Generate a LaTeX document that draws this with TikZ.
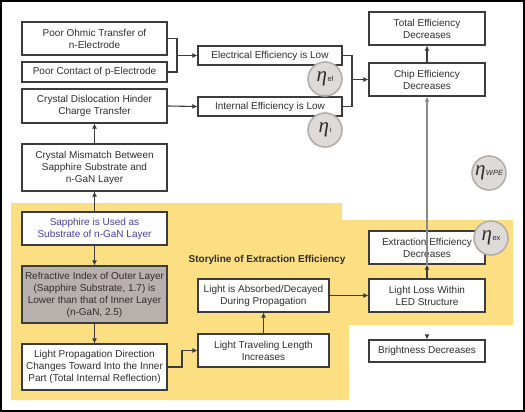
\documentclass[tikz,border=0pt]{standalone}
\usepackage{fontspec}
\setmainfont{Liberation Sans}
\newfontfamily\etafont{Liberation Serif}
\usetikzlibrary{arrows.meta}
\definecolor{boxc}{HTML}{3C3C3C}
\definecolor{txtc}{HTML}{2E2E2E}
\definecolor{ylw}{HTML}{FCDF82}
\definecolor{refrc}{HTML}{B8B0AD}
\definecolor{bluet}{HTML}{4A40A0}
\definecolor{etaf}{HTML}{DEDAD8}
\definecolor{etab}{HTML}{B4AEAB}
\definecolor{grayline}{HTML}{8A8A8A}
\tikzset{
  box/.style={draw=boxc, line width=1.1pt, fill=white, text=txtc, align=center,
    font=\fontsize{10}{12}\selectfont, inner sep=0pt},
  conn/.style={draw=boxc, line width=1.1pt, -{Latex[length=5pt,width=5pt]}},
  plain/.style={draw=boxc, line width=1.1pt},
  eta/.style={circle, draw=etab, fill=etaf, line width=1.6pt, minimum size=34pt, inner sep=0pt, text=txtc}
}
\newcommand{\etalbl}[1]{{\etafont\itshape\fontsize{21}{21}\selectfont η}\hspace{0.5pt}\raisebox{0.5pt}{\fontsize{7.5}{8}\selectfont #1}}
\begin{document}
\begin{tikzpicture}[x=1pt,y=-1pt]
\useasboundingbox (0,0) rectangle (525,412);
% yellow background
\fill[ylw] (11,203) -- (342,203) -- (342,220) -- (513,220) -- (513,325) -- (349,325) -- (349,400) -- (11,400) -- cycle;
% left column
\node[box, minimum width=145pt, minimum height=33pt] (ohmic) at (94.5,38.5) {Poor Ohmic Transfer of\\n-Electrode};
\node[box, minimum width=145pt, minimum height=20pt] (contact) at (94.5,72) {Poor Contact of p-Electrode};
\node[box, minimum width=145pt, minimum height=34pt] (disloc) at (94.5,106) {Crystal Dislocation Hinder\\Charge Transfer};
\node[box, minimum width=145pt, minimum height=47pt] (mismatch) at (94.5,167.5) {Crystal Mismatch Between\\Sapphire Substrate and\\n-GaN Layer};
\node[box, minimum width=145pt, minimum height=33pt, text=bluet] (sapphire) at (94.5,228.5) {Sapphire is Used as\\Substrate of n-GaN Layer};
\node[box, fill=refrc, minimum width=145pt, minimum height=57pt] (refr) at (94.5,294.5) {Refractive Index of Outer Layer\\(Sapphire Substrate, 1.7) is\\Lower than that of Inner Layer\\(n-GaN, 2.5)};
\node[box, minimum width=145pt, minimum height=46pt] (prop) at (94.5,367) {Light Propagation Direction\\Changes Toward Into the Inner\\Part (Total Internal Reflection)};
% middle column
\node[box, minimum width=144pt, minimum height=19pt] (elec) at (270,55.5) {Electrical Efficiency is Low};
\node[box, minimum width=144pt, minimum height=19pt] (internal) at (270,106.5) {Internal Efficiency is Low};
\node[box, minimum width=131pt, minimum height=33pt] (absorbed) at (263.5,295.5) {Light is Absorbed/Decayed\\During Propagation};
\node[box, minimum width=131pt, minimum height=33pt] (travel) at (263.5,350.5) {Light Traveling Length\\Increases};
\node[font=\bfseries\fontsize{10}{12}\selectfont, text=txtc] (story) at (267,260) {Storyline of Extraction Efficiency};
% right column
\node[box, minimum width=116pt, minimum height=33pt] (total) at (427,28.5) {Total Efficiency\\Decreases};
\node[box, minimum width=116pt, minimum height=33pt] (chip) at (427,79.5) {Chip Efficiency\\Decreases};
\node[box, minimum width=116pt, minimum height=33pt] (extract) at (427,247.5) {Extraction Efficiency\\Decreases};
\node[box, minimum width=116pt, minimum height=33pt] (loss) at (427,295.5) {Light Loss Within\\LED Structure};
\node[box, minimum width=116pt, minimum height=22pt] (bright) at (427,351) {Brightness Decreases};
% connectors
\draw[conn] (mismatch.north) -- (disloc.south);
\draw[conn] (sapphire.north) -- (mismatch.south);
\draw[conn] (sapphire.south) -- (refr.north);
\draw[conn] (refr.south) -- (prop.north);
\coordinate (pj1) at (182,367);
\coordinate (pj2) at (182,350.5);
\draw[conn] (prop.east) -- (pj1) -- (pj2) -- (travel.west);
\draw[conn] (travel.north) -- (absorbed.south);
\draw[conn] (absorbed.east) -- (loss.west);
\draw[conn] (loss.north) -- (extract.south);
\draw[conn, draw=grayline] (extract.south) -- (chip.south);
\draw[conn, shorten <=22pt] (loss.south) -- (bright.north);
\draw[conn] (chip.north) -- (total.south);
\draw[conn] (disloc.east) -- (internal.west);
\coordinate (b1a) at (177,38.5);
\coordinate (b1b) at (177,72);
\coordinate (b1m) at (177,55.5);
\draw[plain] (ohmic.east) -- (b1a) -- (b1b) -- (contact.east);
\draw[conn] (b1m) -- (elec.west);
\coordinate (b2a) at (352,55.5);
\coordinate (b2b) at (352,106.5);
\coordinate (b2m) at (352,79.5);
\draw[plain] (elec.east) -- (b2a) -- (b2b) -- (internal.east);
\draw[conn] (b2m) -- (chip.west);
% eta circles
\node[eta] (etael) at (325,79) {\etalbl{el}};
\node[eta] (etai) at (325,130) {\etalbl{i}};
\node[eta] (etawpe) at (489,173) {\etalbl{\itshape WPE}};
\node[eta] (etaex) at (491,238) {\etalbl{ex}};
% outer frame
\draw[line width=1.5pt] (1,1) rectangle (524,411);
\end{tikzpicture}
\end{document}
